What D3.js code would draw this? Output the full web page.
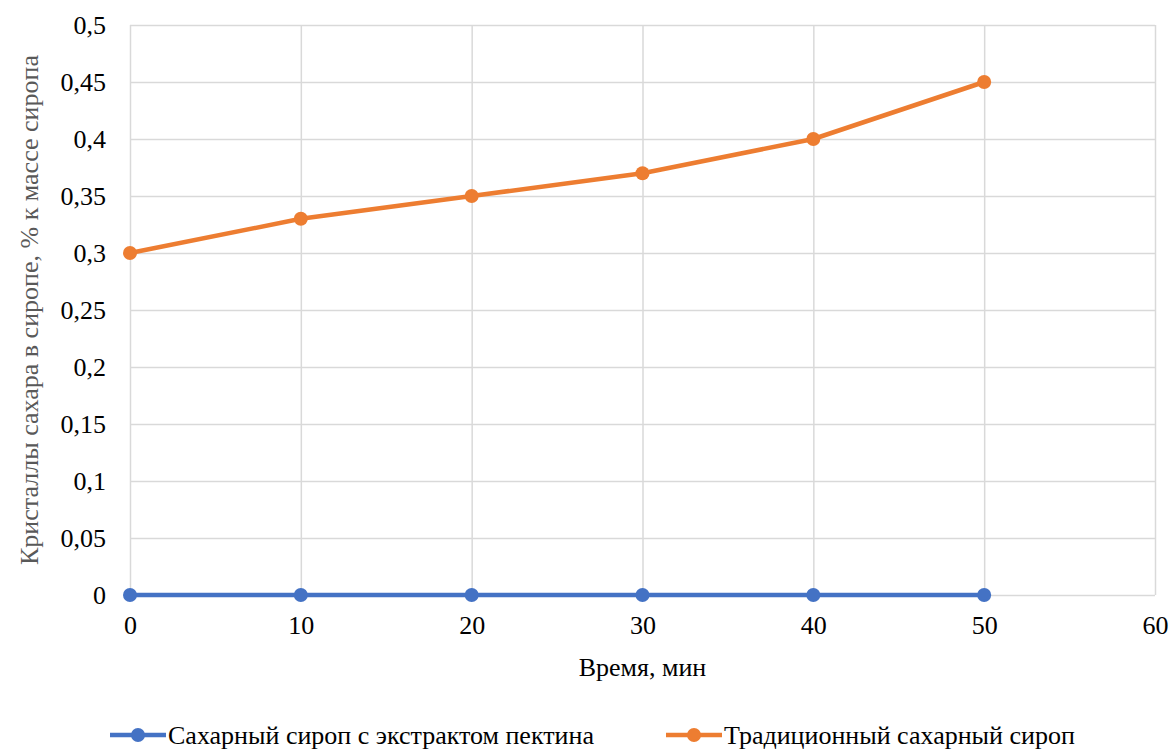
<!DOCTYPE html>
<html lang="ru">
<head>
<meta charset="UTF-8">
<title>Кристаллы сахара</title>
<script src="https://cdn.jsdelivr.net/npm/d3@7"></script>
<style>
  body { margin: 0; background: #fff; }
</style>
</head>
<body>
<script>
// данные
const times = [0, 10, 20, 30, 40, 50];
const pectin = [0, 0, 0, 0, 0, 0];
const traditional = [0.3, 0.33, 0.35, 0.37, 0.4, 0.45];
const seriesNames = ["Сахарный сироп с экстрактом пектина", "Традиционный сахарный сироп"];
const seriesColors = ["#4472c4", "#ed7d31"];
const xTicks = [0, 10, 20, 30, 40, 50, 60];
const yTicks = [0, 0.05, 0.1, 0.15, 0.2, 0.25, 0.3, 0.35, 0.4, 0.45, 0.5];

const width = 1170, height = 749;
const margin = {top: 25, right: 15, bottom: 154, left: 130};
const serif = "'Liberation Serif', 'Times New Roman', 'DejaVu Serif', serif";
const fs = "26px";

const x = d3.scaleLinear().domain([0, 60]).range([margin.left, width - margin.right]);
const y = d3.scaleLinear().domain([0, 0.5]).range([height - margin.bottom, margin.top]);

const svg = d3.select("body").append("svg")
  .attr("width", width).attr("height", height)
  .style("font-family", serif);

const fmt = d => String(d).replace(".", ",");

// сетка
svg.append("g")
  .attr("transform", `translate(0,${y(0)})`)
  .call(d3.axisBottom(x).tickValues(xTicks).tickSize(-(y(0) - y(0.5))).tickFormat(""))
  .call(g => g.select(".domain").remove())
  .call(g => g.selectAll(".tick line").attr("stroke", "#d9d9d9").attr("stroke-width", 1.5));

svg.append("g")
  .attr("transform", `translate(${x(0)},0)`)
  .call(d3.axisLeft(y).tickValues(yTicks).tickSize(-(x(60) - x(0))).tickFormat(""))
  .call(g => g.select(".domain").remove())
  .call(g => g.selectAll(".tick line").attr("stroke", "#d9d9d9").attr("stroke-width", 1.5));

// подписи осей
svg.append("g")
  .attr("transform", `translate(0,${y(0)})`)
  .call(d3.axisBottom(x).tickValues(xTicks).tickSize(0).tickPadding(21).tickFormat(fmt))
  .attr("font-family", null)
  .call(g => g.select(".domain").remove())
  .call(g => g.selectAll("text").style("font-size", fs).style("font-family", serif).attr("fill", "#000"));

svg.append("g")
  .attr("transform", `translate(${x(0)},0)`)
  .call(d3.axisLeft(y).tickValues(yTicks).tickSize(0).tickPadding(24).tickFormat(fmt))
  .attr("font-family", null)
  .call(g => g.select(".domain").remove())
  .call(g => g.selectAll("text").style("font-size", fs).style("font-family", serif).attr("fill", "#000"));

svg.append("text")
  .attr("x", (x(0) + x(60)) / 2).attr("y", 676)
  .attr("text-anchor", "middle").style("font-size", fs)
  .text("Время, мин");

svg.append("text")
  .attr("transform", `translate(38,${(y(0) + y(0.5)) / 2}) rotate(-90)`)
  .attr("text-anchor", "middle").style("font-size", fs)
  .attr("fill", "#595959")
  .text("Кристаллы сахара в сиропе, % к массе сиропа");

// линии
const line = d3.line().x(d => x(d[0])).y(d => y(d[1]));
[pectin, traditional].forEach((vals, i) => {
  const pts = times.map((t, j) => [t, vals[j]]);
  svg.append("path").datum(pts)
    .attr("fill", "none").attr("stroke", seriesColors[i])
    .attr("stroke-width", 4.5).attr("stroke-linejoin", "round")
    .attr("d", line);
  svg.append("g").selectAll("circle").data(pts).join("circle")
    .attr("cx", d => x(d[0])).attr("cy", d => y(d[1]))
    .attr("r", 7).attr("fill", seriesColors[i]);
});

// легенда
const legendX = [110, 666];
seriesNames.forEach((name, i) => {
  const g = svg.append("g").attr("transform", `translate(${legendX[i]},735)`);
  g.append("line").attr("x1", 0).attr("x2", 56)
    .attr("stroke", seriesColors[i]).attr("stroke-width", 4.5);
  g.append("circle").attr("cx", 28).attr("r", 7).attr("fill", seriesColors[i]);
  g.append("text").attr("x", 58).attr("y", 9).style("font-size", fs).text(name);
});
</script>
</body>
</html>
